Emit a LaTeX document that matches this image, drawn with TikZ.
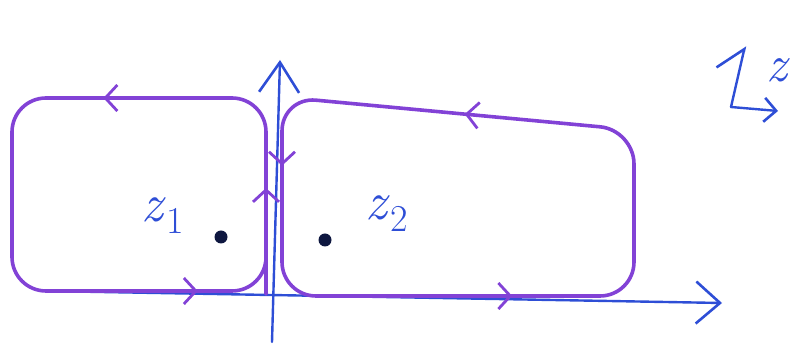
\documentclass[tikz,border=0pt]{standalone}
\usepackage{fontspec}
\usepackage{tikz}
\usetikzlibrary{arrows.meta, decorations.markings}
\definecolor{ink}{RGB}{130,66,214}
\definecolor{pen}{RGB}{46,78,214}
\newcommand{\zsub}[1]{\textit{z}\raisebox{-0.22em}{\fontsize{38}{40}\selectfont #1}}

\begin{document}
\begin{tikzpicture}[
  x=1pt, y=-1pt,
  contour/.style={ink, line width=3.6pt, line cap=round, line join=round, rounded corners=34pt},
  flowtip/.style={ink, line width=2.8pt},
  axis/.style={pen, line width=2.4pt, line cap=round},
  label/.style={pen, font=\fontsize{54}{58}\selectfont, inner sep=0pt},
  pt/.style={circle, fill=black!70!pen, inner sep=0pt, minimum size=13pt},
]
\useasboundingbox (0,0) rectangle (796,344);

% --- Axes ---
\coordinate (xstart) at (45,291);
\coordinate (xend) at (722,303);
\coordinate (ystart) at (272,342);
\coordinate (yend) at (280,60);
\draw[axis, -{Straight Barb[length=24pt, width=42pt, line width=2.6pt]}] (xstart) -- (xend);
\draw[axis, -{Straight Barb[length=30pt, width=40pt, line width=2.6pt]}] (ystart) -- (yend);

% --- Left contour (around z1) ---
\draw[contour, postaction={decorate}, decoration={markings,
    mark=at position 18pt with {\arrow[flowtip]{Straight Barb[length=12pt, width=26pt]}},
    mark=at position 256pt with {\arrow[flowtip]{Straight Barb[length=12pt, width=26pt]}},
    mark=at position 697pt with {\arrow[flowtip]{Straight Barb[length=12pt, width=26pt]}}}]
  (266,240) -- (266,98) -- (12,98) -- (12,291) -- (266,291) -- (266,260) -- cycle;

% --- Right contour (around z2) ---
\draw[contour, postaction={decorate}, decoration={markings,
    mark=at position 208pt with {\arrow[flowtip]{Straight Barb[length=12pt, width=26pt]}},
    mark=at position 444pt with {\arrow[flowtip]{Straight Barb[length=12pt, width=26pt]}},
    mark=at position 790pt with {\arrow[flowtip]{Straight Barb[length=12pt, width=26pt]}}}]
  (634,215) -- (634,130) -- (282,97) -- (282,296) -- (634,296) -- cycle;

% --- Poles ---
\node[pt] (z1) at (221,237) {};
\node[pt] (z2) at (325,240) {};
\node[label] (z1lab) at (163,216) {\zsub{1}};
\node[label] (z2lab) at (387,214) {\zsub{2}};

% --- Orientation mark ---
\coordinate (corner) at (731,107);
\coordinate (up) at (745,46);
\coordinate (right) at (778,111);
\draw[axis, -{Straight Barb[left, length=24pt, width=46pt, line width=2.6pt]}] (corner) -- (up);
\draw[axis, -{Straight Barb[length=12pt, width=24pt, line width=2.6pt]}] (corner) -- (right);
\node[label, anchor=west, font=\fontsize{52}{56}\selectfont\itshape] (zmark) at (766,70) {z};

\end{tikzpicture}
\end{document}
